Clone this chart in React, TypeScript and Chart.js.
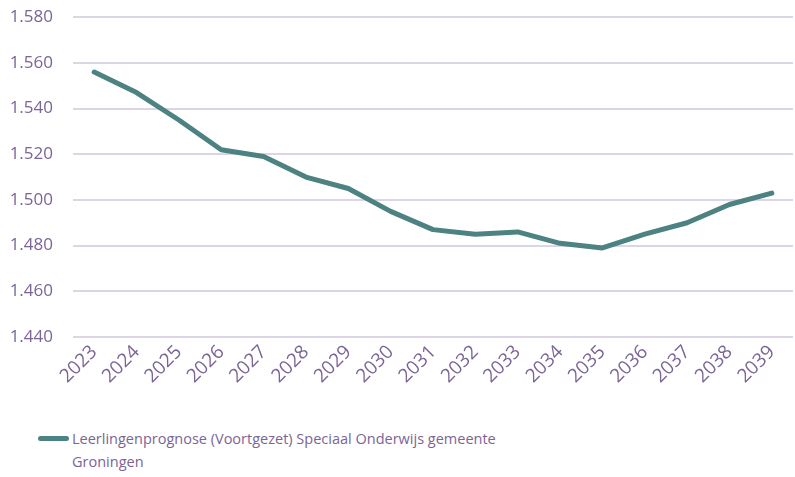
import React, { useEffect, useRef } from "react";
import { Chart, registerables } from "chart.js";

Chart.register(...registerables);

const years = ["2023","2024","2025","2026","2027","2028","2029","2030","2031","2032","2033","2034","2035","2036","2037","2038","2039"];
const leerlingen = [1556,1547,1535,1522,1519,1510,1505,1495,1487,1485,1486,1481,1479,1485,1490,1498,1503];
const seriesLabel = "Leerlingenprognose (Voortgezet) Speciaal Onderwijs gemeente";
const seriesLabel2 = "Groningen";
const yMin = 1440;
const yMax = 1580;
const yStep = 20;

const TEXT = "#7b6496";
const GRID = "#dcd5e6";
const LINE = "#4d8282";
const FONT = "'Open Sans', 'DejaVu Sans', sans-serif";

function fmt(v: number) {
  const s = String(Math.round(v));
  return s.length > 3 ? s.slice(0, s.length - 3) + "." + s.slice(s.length - 3) : s;
}

export default function App() {
  const ref = useRef<HTMLCanvasElement | null>(null);
  useEffect(() => {
    document.body.style.margin = "0";
    const ctx = ref.current!;
    const chart = new Chart(ctx, {
      type: "line",
      data: {
        labels: years,
        datasets: [
          {
            label: seriesLabel + " " + seriesLabel2,
            data: leerlingen,
            borderColor: LINE,
            backgroundColor: LINE,
            borderWidth: 5,
            pointRadius: 0,
            tension: 0,
            borderCapStyle: "round",
            borderJoinStyle: "round",
          },
        ],
      },
      options: {
        animation: false,
        responsive: false,
        layout: { padding: { top: 0, right: 2, left: 0, bottom: 0 } },
        plugins: { legend: { display: false }, tooltip: { enabled: false } },
        scales: {
          x: {
            offset: true,
            grid: { display: false, drawTicks: false },
            border: { display: false },
            ticks: {
              color: TEXT,
              font: { family: FONT, size: 19 },
              minRotation: 45,
              maxRotation: 45,
              padding: 4,
              autoSkip: false,
            },
            afterFit: (s: any) => { s.height = 58; },
          },
          y: {
            min: yMin,
            max: yMax,
            grid: { color: GRID, lineWidth: 2, drawTicks: false },
            border: { display: false },
            ticks: {
              stepSize: yStep,
              color: TEXT,
              font: { family: FONT, size: 17 },
              padding: 20,
              callback: (v: any) => fmt(Number(v)),
            },
            afterFit: (s: any) => { s.width = 73; },
          },
        },
      },
    });
    return () => chart.destroy();
  }, []);
  return (
    <div style={{ position: "relative", width: 795, height: 477, fontFamily: FONT, overflow: "hidden" }}>
      <canvas ref={ref} width={795} height={408} style={{ display: "block", marginTop: -13 }} />
      <div style={{ position: "absolute", left: 38, top: 427, display: "flex", alignItems: "flex-start" }}>
        <div style={{ width: 31, height: 5, borderRadius: 3, background: LINE, marginTop: 9, marginRight: 3 }} />
        <div style={{ color: TEXT, fontSize: 14.5, lineHeight: "23px" }}>
          {seriesLabel}
          <br />
          {seriesLabel2}
        </div>
      </div>
    </div>
  );
}
